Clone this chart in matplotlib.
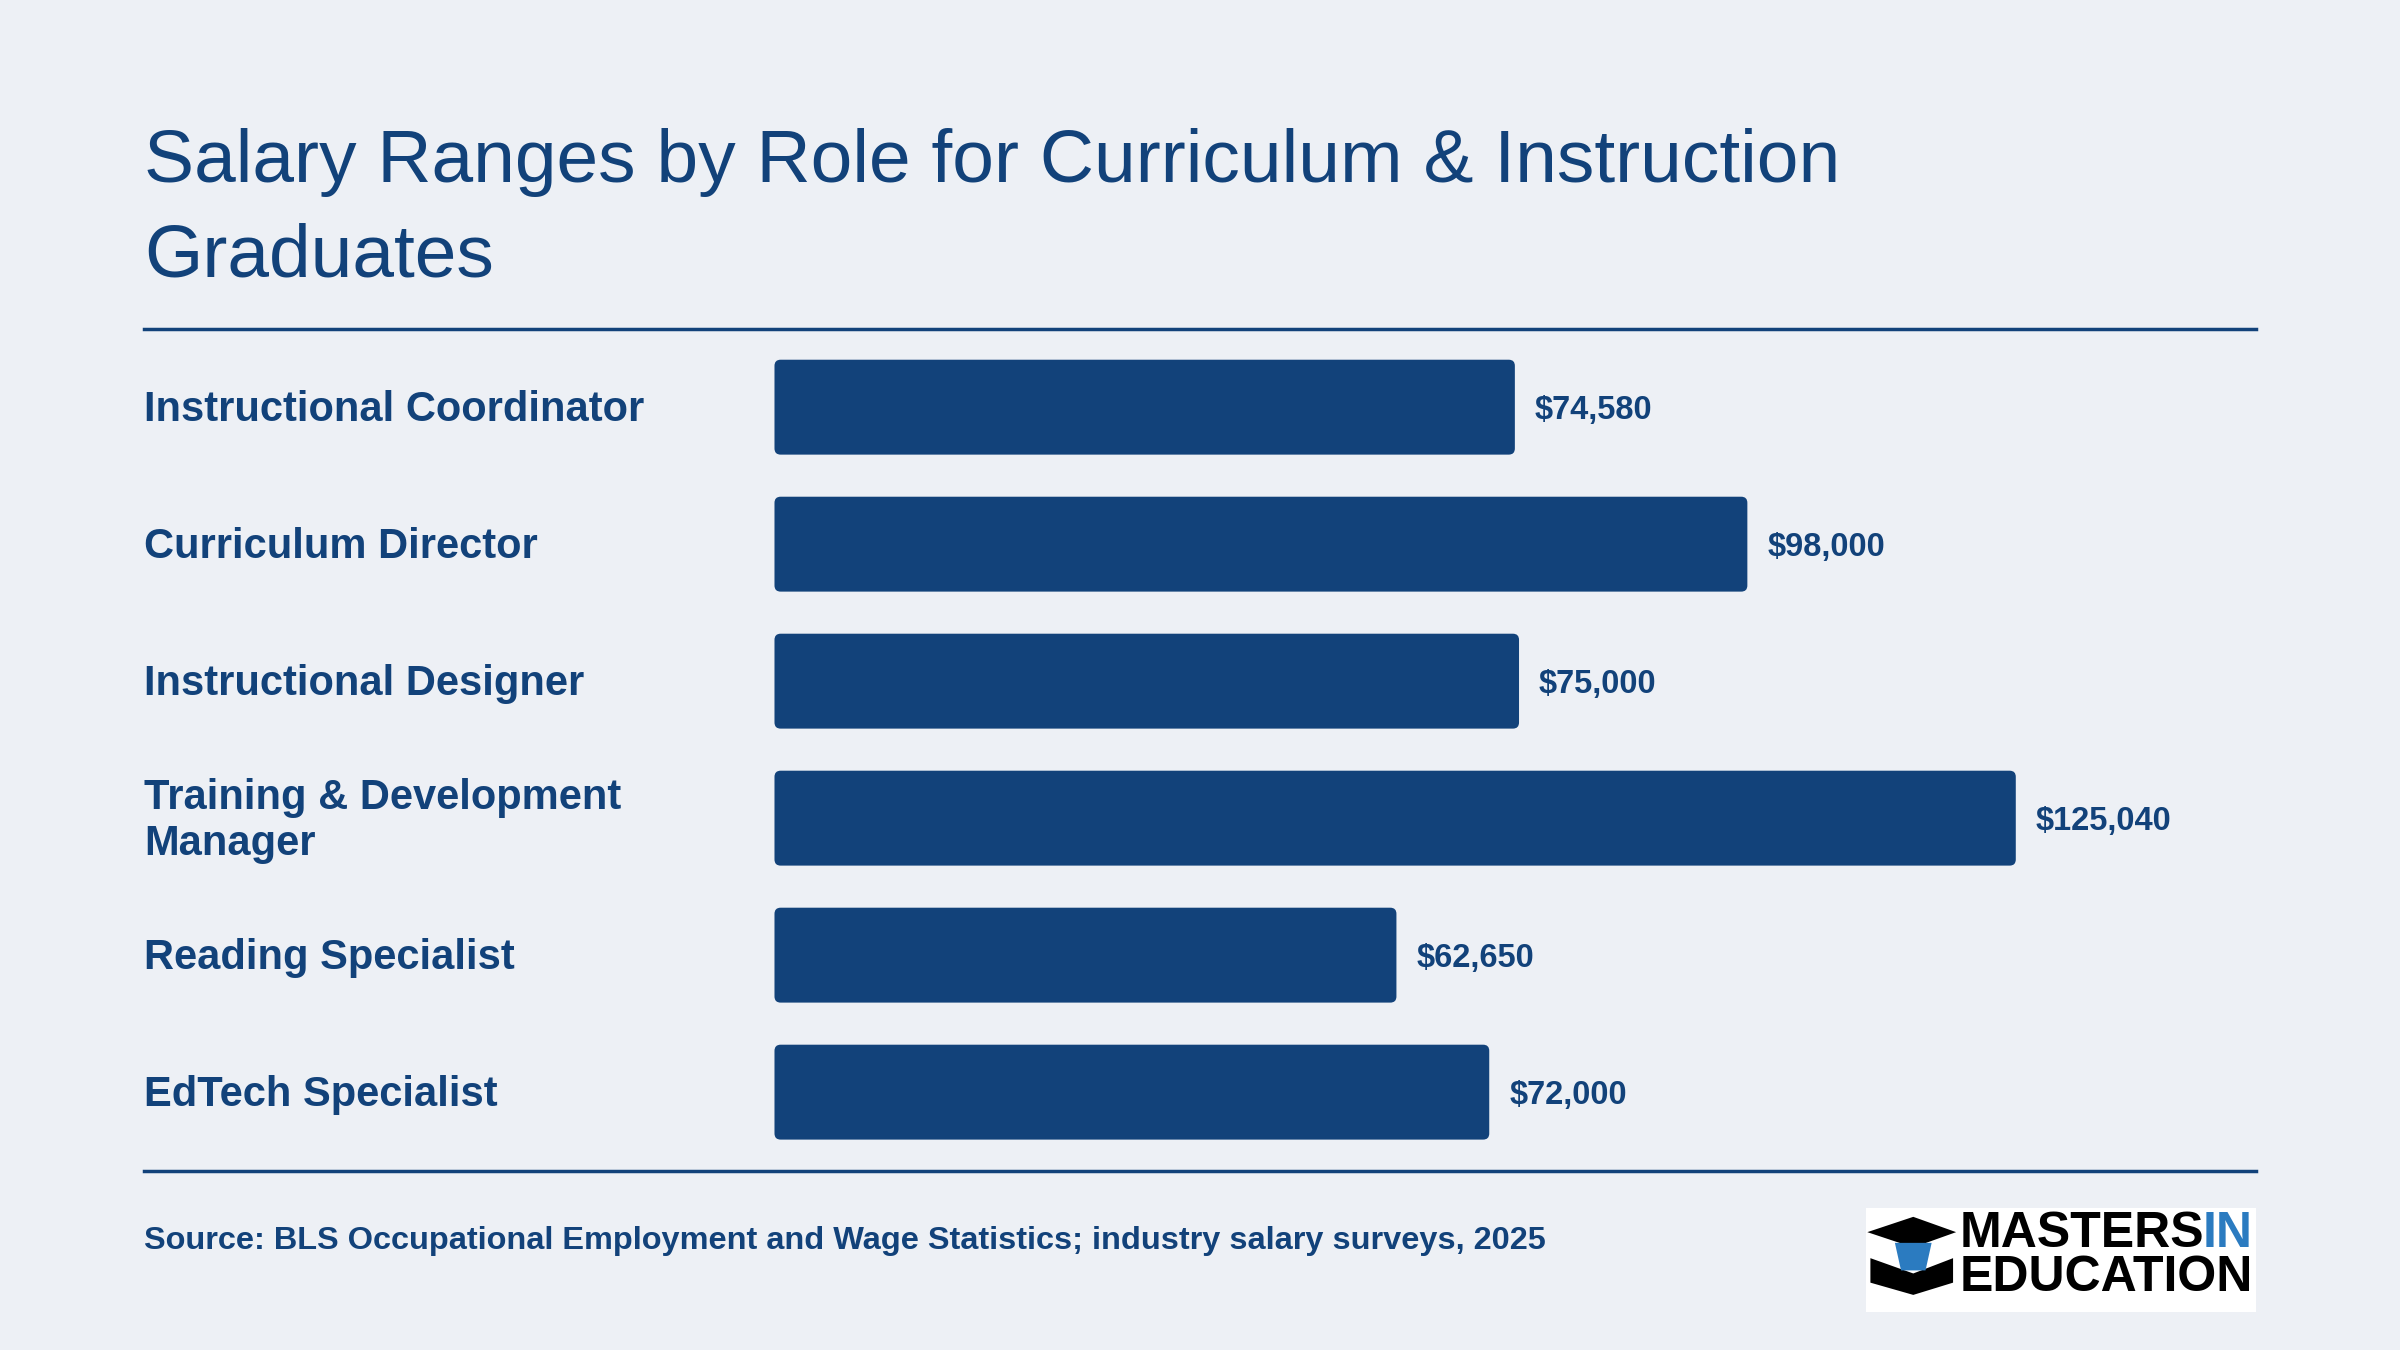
import matplotlib.pyplot as plt
from matplotlib.patches import FancyBboxPatch, Rectangle, Polygon

plt.rcParams['font.family'] = ['Liberation Sans', 'DejaVu Sans']

roles = ["Instructional Coordinator", "Curriculum Director", "Instructional Designer",
         "Training & Development\nManager", "Reading Specialist", "EdTech Specialist"]
salaries = [74580, 98000, 75000, 125040, 62650, 72000]
labels = ["$74,580", "$98,000", "$75,000", "$125,040", "$62,650", "$72,000"]

bg = "#edf0f5"
navy = "#12427a"
W, H = 1568, 882  # reference layout units

fig = plt.figure(figsize=(24, 13.5), dpi=100, facecolor=bg)

def fx(x): return x / W
def fy(y): return 1 - y / H

fig.text(fx(94), fy(106), "Salary Ranges by Role for Curriculum & Instruction",
         fontsize=54, color=navy, va="center")
fig.text(fx(94), fy(168), "Graduates", fontsize=54, color=navy, va="center")

for y in (215, 765):
    fig.add_artist(plt.Line2D([fx(94), fx(1474)], [fy(y), fy(y)], color=navy, lw=2.5))

ax = fig.add_axes([fx(506), fy(765), fx(1474 - 506), (765 - 215) / H])
ax.set_facecolor(bg)
ax.set_xlim(0, 149250)
ax.set_ylim(5.575, -0.57)
ax.axis("off")

xpp = 149250 / 968
ypp = 1 / 89.5
for i, (s, lab, role) in enumerate(zip(salaries, labels, roles)):
    h = 62 * ypp
    p = FancyBboxPatch((0, i - h / 2), s, h,
                       boxstyle="round,pad=0,rounding_size=%f" % (4 * xpp),
                       mutation_aspect=ypp / xpp, fc=navy, ec="none")
    ax.add_patch(p)
    ax.text(s + 13 * xpp, i + 2 * ypp, lab, fontsize=23.5, fontweight="bold", color=navy, va="center")
    fig.text(fx(94), fy(268 + 89.5 * i), role, fontsize=30, fontweight="bold",
             color=navy, va="center", linespacing=1.2)

fig.text(fx(94), fy(811), "Source: BLS Occupational Employment and Wage Statistics; industry salary surveys, 2025",
         fontsize=23.4, fontweight="bold", color=navy, va="center")

# logo
fig.add_artist(Rectangle((fx(1219), fy(857)), fx(255), (857 - 789) / H, fc="white", ec="none"))
fig.add_artist(Polygon([[fx(1220), fy(805)], [fx(1250), fy(795)], [fx(1278), fy(805)], [fx(1250), fy(815)]],
                       closed=True, fc="black", ec="none"))
fig.add_artist(Polygon([[fx(1222), fy(822)], [fx(1250), fy(832)], [fx(1276), fy(822)], [fx(1276), fy(838)],
                        [fx(1250), fy(846)], [fx(1222), fy(838)]], closed=True, fc="black", ec="none"))
fig.add_artist(Polygon([[fx(1238), fy(812)], [fx(1262), fy(812)], [fx(1258), fy(830)], [fx(1242), fy(830)]],
                       closed=True, fc="#2b7bc0", ec="none"))
logo_font = ['Liberation Sans Narrow', 'Liberation Sans']
fig.text(fx(1280), fy(806), "MASTERS", fontsize=36, fontweight="bold", color="black", va="center", family=logo_font)
fig.text(fx(1472), fy(806), "IN", fontsize=36, fontweight="bold", color="#2b7bc0", va="center", ha="right", family=logo_font)
fig.text(fx(1280), fy(835), "EDUCATION", fontsize=36, fontweight="bold", color="black", va="center", family=logo_font)

fig.savefig("out.png", facecolor=bg)
